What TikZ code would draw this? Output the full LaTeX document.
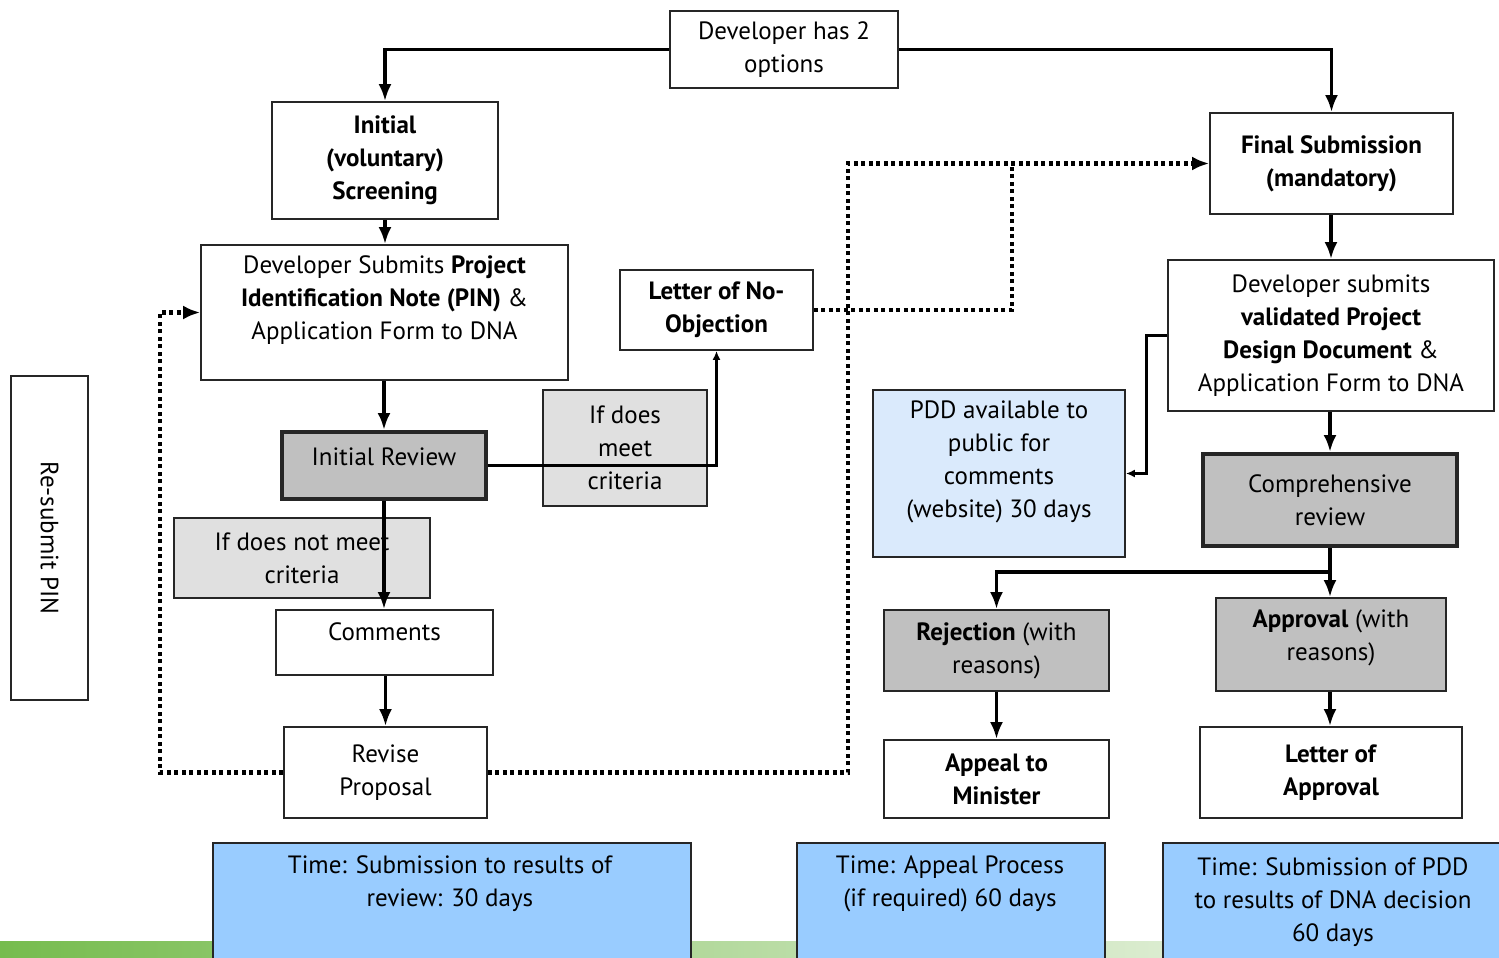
\documentclass[tikz,border=0pt]{standalone}
\usepackage{fontspec}
\setmainfont{PT Sans}
\usetikzlibrary{arrows.meta}

\definecolor{revgrey}{RGB}{192,192,192}
\definecolor{critgrey}{RGB}{224,224,224}
\definecolor{pddblue}{RGB}{218,234,252}
\definecolor{timeblue}{RGB}{153,204,255}
\definecolor{stripl}{RGB}{118,188,78}
\definecolor{stripm}{RGB}{205,228,178}
\definecolor{stripr}{RGB}{248,250,245}

\tikzset{every picture/.style={line width=1pt}}

\begin{document}
\begin{tikzpicture}[x=1pt,y=1pt,yscale=-1,xscale=1,
    box/.style={draw=black!85, line width=1.8, fill=white, inner sep=0, align=center, font=\fontsize{25}{33}\selectfont},
    revbox/.style={box, fill=revgrey},
    heavybox/.style={box, fill=revgrey, line width=4},
    critbox/.style={box, fill=critgrey},
    txt/.style={inner sep=0, align=center, font=\fontsize{25}{33}\selectfont},
    link/.style={line width=3.5, -{Latex[length=17pt,width=13pt]}},
    thinlink/.style={line width=3, -{Latex[length=9pt,width=8pt]}},
    dotlink/.style={line width=4.5, dash pattern=on 4pt off 3.5pt, -{Latex[length=17pt,width=14pt]}},
    dotline/.style={line width=4.5, dash pattern=on 4pt off 3.5pt}]
\useasboundingbox (0,0) rectangle (1499,958);
\clip (0,0) rectangle (1499,958);

% green strip at the foot
\shade[left color=stripl, middle color=stripm, right color=stripr] (0,941) rectangle (1499,958);

% left column
\node[box, minimum width=228, minimum height=77] (opts) at (784,49.5) {Developer has 2\\options};
\node[box, minimum width=226, minimum height=117] (screen) at (385,160.5) {\textbf{Initial}\\\textbf{(voluntary)}\\\textbf{Screening}};
\node[box, minimum width=367, minimum height=135] (pin) at (384.5,312.5) {};
\node[txt] (pintxt) at (384.5,300) {Developer Submits \textbf{Project}\\\textbf{Identification Note (PIN)} \&\\Application Form to DNA};
\node[box, minimum width=193, minimum height=80] (lno) at (716.5,310) {\textbf{Letter of No-}\\\textbf{Objection}};
\node[critbox, minimum width=164, minimum height=116] (meet) at (625,448) {If does\\meet\\criteria};
\node[heavybox, minimum width=204, minimum height=67] (review) at (384,465.5) {};
\node[txt] (reviewtxt) at (384,457) {Initial Review};
\node[critbox, minimum width=256, minimum height=80] (notmeet) at (302,558) {If does not meet\\criteria};
\node[box, minimum width=217, minimum height=65] (comments) at (384.5,642.5) {};
\node[txt] (commentstxt) at (384.5,632) {Comments};
\node[box, minimum width=203, minimum height=91] (revise) at (385.5,772.5) {Revise\\Proposal};
\node[box, minimum width=324, minimum height=77, rotate=-90] (resubmit) at (49.5,538) {Re-submit PIN};

% right column
\node[box, minimum width=243, minimum height=101] (final) at (1331.5,163.5) {\textbf{Final Submission}\\\textbf{(mandatory)}};
\node[box, minimum width=326, minimum height=151] (pdd) at (1331,335.5) {Developer submits\\\textbf{validated Project}\\\textbf{Design Document} \&\\Application Form to DNA};
\node[box, fill=pddblue, minimum width=252, minimum height=167] (avail) at (999,473.5) {};
\node[txt] (availtxt) at (999,462) {PDD available to\\public for\\comments\\(website) 30 days};
\node[heavybox, minimum width=254, minimum height=92] (compr) at (1330,500) {Comprehensive\\review};
\node[revbox, minimum width=225, minimum height=81] (reject) at (996.5,650.5) {\textbf{Rejection} (with\\reasons)};
\node[revbox, minimum width=230, minimum height=93] (approval) at (1331,644.5) {};
\node[txt] (approvaltxt) at (1331,638) {\textbf{Approval} (with\\reasons)};
\node[box, minimum width=225, minimum height=78] (appeal) at (996.5,779) {\textbf{Appeal to}\\\textbf{Minister}};
\node[box, minimum width=262, minimum height=91] (loa) at (1331,772.5) {\textbf{Letter of}\\\textbf{Approval}};

% time boxes
\node[box, fill=timeblue, minimum width=478, minimum height=140] (time1) at (452,913) {};
\node[txt] (time1txt) at (450,884) {Time: Submission to results of\\review: 30 days};
\node[box, fill=timeblue, minimum width=308, minimum height=140] (time2) at (951,913) {};
\node[txt] (time2txt) at (950,884) {Time: Appeal Process\\(if required) 60 days};
\node[box, fill=timeblue, minimum width=347, minimum height=140] (time3) at (1336.5,913) {};
\node[txt] (time3txt) at (1333,902) {Time: Submission of PDD\\to results of DNA decision\\60 days};

% corners of the dotted returns
\coordinate (backl) at (160,772.5);
\coordinate (backr) at (848,772.5);
\coordinate (joinlno) at (1012,310);
\coordinate (split) at (1330,572);

% solid connectors
\draw[link] (opts.west) -| (screen.north);
\draw[link] (opts.east) -| (final.north);
\draw[link] (screen.south) -- (screen.south |- pin.north);
\draw[link] (pin.south -| review.north) -- (review.north);
\draw[thinlink] (review.east) -| (lno.south);
\draw[link] (review.south) -- (review.south |- comments.north);
\draw[link] (comments.south -| revise.north) -- (revise.north);
\draw[link] (final.south -| pdd.north) -- (pdd.north);
\draw[thinlink] (pdd.west) -- ++(-21,0) |- (avail.east);
\draw[link] (pdd.south -| compr.north) -- (compr.north);
\draw[line width=3.5] (compr.south) -- (split);
\draw[link] (split) -- (split |- approval.north);
\draw[link] (split) -| (reject.north);
\draw[link] (reject.south) -- (appeal.north);
\draw[link] (approval.south -| split) -- (split |- loa.north);

% dotted returns
\draw[dotlink] (revise.west) -- (backl) |- (pin.west);
\draw[dotlink] (revise.east) -- (backr) |- (final.west);
\draw[dotline] (lno.east) -- (joinlno) -- (joinlno |- final.west);
\end{tikzpicture}
\end{document}
